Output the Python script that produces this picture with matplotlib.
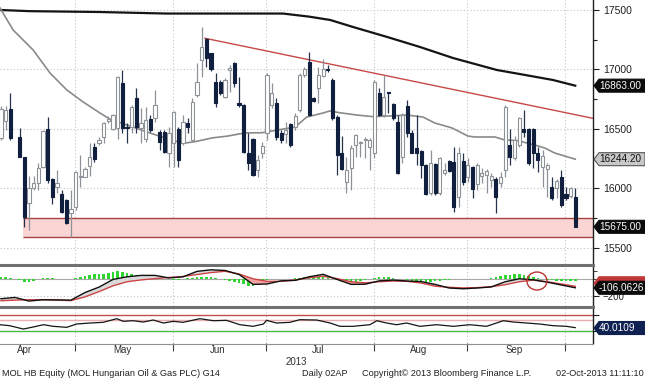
import numpy as np
import pandas as pd
import matplotlib
matplotlib.use('Agg')
import matplotlib.pyplot as plt
import matplotlib.transforms as mtrans
from matplotlib.patches import Polygon, Ellipse
from matplotlib.lines import Line2D

plt.rcParams['font.family'] = ['Liberation Sans', 'DejaVu Sans']

# daily candles, MOL HB Equity, 08-Apr-2013 .. 02-Oct-2013 (nan = no print)
nan = np.nan
open_px = [16420, 16569, 16664, nan, 16434, 16266, 15873, 16000, 16041, 16182,
           16496, 16075, 16008, 15951, 15901, 15794, 15845, 16097, 16097, 16187,
           16350, 16378, 16434, 16569, 16496, 16504, 16883, 16518, 16518, 16757,
           16504, 16412, 16580, 16588, 16476, 16476, 16294, 16378, 16496, 16378,
           16552, 16406, 16785, 17079, 17253, 17136, 16897, 16897, 16771, 16995,
           17057, 16720, 16701, 16294, 16412, 16153, 16299, 16462, 16701, 16715,
           16462, 16457, 16538, 16518, 16659, 16953, 17065, 16757, 16841, 16945,
           17004, 16911, 16602, 16299, 16055, 16168, 16364, 16378, 16406, 16350,
           16294, 16804, 16616, 16807, 16709, 16560, 16266, 16692, 16462, 16336,
           16316, 16196, 15957, 16204, 15957, 16131, 16232, 16224, 15929, 16232,
           16097, 16176, 16036, 16103, 16111, 16069, 16075, 16047, 16153, 16364,
           16252, 16364, 16496, 16496, 16496, 16299, 16176, 16159, 16013, 16000,
           16097, 15949, 15934, 15929]
high_px = [16692, 16692, 16804, nan, 16504, 16266, 16106, 16106, 16210, 16490,
           16602, 16083, 16153, 15985, 15906, 15985, 16145, 16280, 16182, 16384,
           16384, 16434, 16557, 16608, 16622, 16945, 16995, 16546, 16701, 16841,
           16673, 16681, 16616, 16827, 16490, 16490, 16518, 16650, 16518, 16616,
           16588, 16757, 17051, 17357, 17262, 17141, 16967, 16911, 16925, 17037,
           17065, 16939, 16709, 16462, 16420, 16280, 16392, 16967, 16883, 16757,
           16490, 16560, 16546, 16630, 16967, 17023, 17149, 16771, 17023, 17085,
           17037, 16925, 16616, 16440, 16266, 16364, 16457, 16400, 16428, 16420,
           16911, 16841, 16953, 16813, 16715, 16616, 16630, 16743, 16490, 16616,
           16322, 16204, 16322, 16215, 16266, 16210, 16238, 16350, 16350, 16299,
           16252, 16187, 16210, 16168, 16159, 16125, 16097, 16139, 16701, 16496,
           16440, 16602, 16659, 16504, 16504, 16350, 16322, 16210, 16097, 16075,
           16153, 16013, 16013, 16000]
low_px = [16406, 16490, 16406, nan, 16260, 15676, 15648, 15985, 15985, 16168,
          16041, 15867, 15957, 15794, 15699, 15592, 15817, 16013, 16092, 16103,
          16224, 16364, 16384, 16552, 16490, 16412, 16462, 16378, 16462, 16462,
          16378, 16392, 16476, 16560, 16322, 16294, 16182, 16182, 16182, 16364,
          16462, 16400, 16771, 16939, 17023, 16990, 16681, 16785, 16757, 16813,
          16855, 16681, 16294, 16153, 16103, 16097, 16252, 16406, 16673, 16406,
          16378, 16378, 16350, 16490, 16645, 16939, 16608, 16729, 16715, 16939,
          16981, 16574, 16111, 16153, 15963, 15985, 16266, 16266, 16252, 16153,
          16252, 16608, 16602, 16630, 16574, 16120, 16210, 16434, 16294, 16196,
          16083, 15943, 15943, 15943, 15943, 16111, 16139, 15803, 15845, 16027,
          16055, 15915, 15985, 16041, 15963, 16013, 15789, 16008, 16097, 16196,
          16238, 16350, 16434, 16196, 16168, 16139, 16013, 15929, 15901, 15915,
          15845, 15901, 15915, 15671]
close_px = [16664, 16659, 16420, nan, 16266, 15761, 16000, 16041, 16168, 16485,
            16069, 15929, 16041, 15803, 15705, 15822, 16139, 16106, 16159, 16266,
            16243, 16406, 16552, 16580, 16616, 16939, 16504, 16510, 16687, 16518,
            16552, 16574, 16490, 16701, 16392, 16308, 16462, 16645, 16238, 16560,
            16513, 16729, 16897, 17192, 17093, 17001, 16720, 16799, 16911, 17015,
            16883, 16703, 16308, 16210, 16111, 16238, 16356, 16953, 16799, 16434,
            16406, 16490, 16364, 16608, 16953, 17001, 16616, 16737, 16953, 17001,
            16992, 16588, 16280, 16159, 16153, 16336, 16448, 16389, 16414, 16406,
            16897, 16616, 16771, 16799, 16588, 16131, 16616, 16462, 16299, 16299,
            16196, 15951, 16210, 15957, 16252, 16153, 16148, 15845, 16299, 16055,
            16196, 15991, 16196, 16131, 16148, 16103, 15929, 16097, 16687, 16260,
            16406, 16588, 16476, 16210, 16294, 16238, 16271, 16196, 15915, 16064,
            15859, 15915, 15999, 15675]

# moving averages (at these candle positions)
ma200_pos = [-0.2, 6.2, 21, 35.5, 49.7, 60.4, 66, 70.5, 75.4, 82.7, 89.7, 96.8, 106.2, 111.1, 118.2, 123]
ma200_val = [17500, 17490, 17483, 17470, 17470, 17470, 17444, 17416, 17357, 17273, 17189, 17096, 16995, 16961, 16911, 16863]
ma50_pos = [-0.2, 2.6, 6.9, 10.5, 14.1, 17.6, 21.2, 23.3, 27.0, 31.9, 34.5, 37.9, 39.4, 41.5, 45.2,
            48.6, 52.2, 55.9, 59.3, 63.0, 65.5, 69.0, 70.4, 72.6, 76.2, 79.7, 83.3, 86.9, 90.4, 92.9,
            96.6, 100.0, 101.5, 105.8, 107.9, 110.7, 114.3, 116.5, 118.6, 121.4, 123]
ma50_val = [17517, 17332, 17163, 16970, 16827, 16726, 16633, 16582, 16532, 16465, 16431, 16391, 16380, 16391, 16423,
            16439, 16465, 16467, 16490, 16515, 16599, 16633, 16650, 16635, 16616, 16602, 16608, 16616, 16599, 16549,
            16507, 16439, 16431, 16431, 16406, 16400, 16364, 16338, 16296, 16263, 16244.2]

trend_pos = [43.7, 126.8]
trend_val = [17262, 16588]
support_from = 4.8
support_lo, support_hi = 15592, 15746

# MACD panel
macd_pos = list(range(0, 124, 3))
macd_val = [-239, -223, -267, -251, -253, -256, -164, -98, -5, 27, 44, 44, 13, 27,
            93, 112, 104, 55, -65, -60, -22, -16, 27, 57, -5, -65, -63, -22, -13, -24,
            -31, -65, -109, -118, -109, -96, -33, 3, -9, -38, -72, -106.0626]
signal_val = [-263, -256, -251, -251, -256, -262, -216, -153, -82, -33, -11, 5, 19, 31,
              55, 78, 94, 61, 3, -28, -28, -13, 16, 33, 5, -33, -46, -33, -24, -28,
              -48, -87, -100, -108, -104, -93, -69, -33, -13, -33, -60, -88]
hist_val = [20, 20, 15, nan, -15, -30, -35, -20, 5, 10, 10, 10, 5, 5, 5, 5,
            15, 25, 35, 45, 55, 60, 65, 70, 80, 93, 80, 70, 60, 50, 45, 40, 36, 25, 10, 5, -5,
            -10, -10, 5, 10, 15, 20, 25, 25, 20, 10, 0, -10, -20, -35, -50, -65, -80, -85, -70, -40,
            -15, -5, 0, 5, 5, 5, 10, 15, 20, 25, 30, 30, 25, 15, 0, -15, -30, -40, -40, -35, -25, -15, -5,
            10, 20, 25, 25, 15, 5, -5, -15, -20, -25, -30, -30, -30, -25, -20, -15, -10, -5, -5, 0,
            0, 5, 5, 5, 5, 10, 20, 35, 45, 50, 56, 56, 50, 40, 25, 10, 0, -10, -15, -20, -20, -20, -20, -18]

# RSI panel
rsi_pos = [-0.2, 1.9, 4.8, 6.9, 9.1, 11.2, 14.1, 16.2, 19.1, 21.9, 24.8, 26.2, 28.3, 30.5, 32.6,
           34.8, 36.9, 39.0, 42.6, 45.5, 48.3, 51.2, 54.0, 56.2, 56.9, 59.0, 61.9, 64.0, 67.6, 68.3,
           70.5, 72.6, 75.4, 79.0, 80.5, 82.6, 84.7, 86.9, 89.7, 93.3, 96.9, 100.4, 104.0, 107.6,
           109.7, 112.6, 115.4, 118.3, 121.1, 123]
rsi_val = [45.6, 43.0, 34.4, 39.6, 45.6, 41.4, 38.8, 47.4, 50.0, 51.8, 61.2, 54.4, 56.0, 52.6, 57.8,
           50.0, 54.4, 51.8, 61.2, 56.0, 57.0, 45.6, 41.4, 47.4, 57.0, 50.0, 51.8, 58.6, 57.8, 56.0,
           50.0, 41.4, 41.4, 45.6, 56.0, 50.0, 45.6, 50.0, 41.4, 45.6, 41.4, 45.6, 41.4, 56.0,
           52.6, 50.0, 47.4, 43.0, 41.4, 38.0]
rsi_last = 40.0109

holidays = ['2013-04-01', '2013-05-01', '2013-05-20', '2013-08-19', '2013-08-20']
month_names = ['Apr', 'May', 'Jun', 'Jul', 'Aug', 'Sep', 'Oct']

# ---- calendar -> candle positions
all_days = pd.bdate_range('2013-04-01', '2013-10-02')
all_days = all_days[~all_days.isin(pd.to_datetime(holidays))]
day_pos = np.arange(len(all_days)) - all_days.get_loc(pd.Timestamp('2013-04-08'))
x = np.arange(len(open_px))
o, h, l, c = (np.array(v, float) for v in (open_px, high_px, low_px, close_px))

months = pd.Series(day_pos, index=all_days).groupby(all_days.month)
tick_pos = [g.min() - 1.2 for m, g in months][1:]
label_pos = [g.mean() - 1.0 for m, g in months][:-1]

W, H = 645, 380
fig = plt.figure(figsize=(W / 100, H / 100), dpi=100)
fig.patch.set_facecolor('white')
right = 593 / W
ax = fig.add_axes([0, 1 - 264 / H, right, 264 / H])
axm = fig.add_axes([0, 1 - 306 / H, right, 40 / H], sharex=ax)
axr = fig.add_axes([0, 1 - 343 / H, right, 34 / H], sharex=ax)
xlim = (-0.2, 126.8)

for a in (ax, axm, axr):
    for s in ('top', 'left', 'bottom'):
        a.spines[s].set_visible(False)
    a.spines['right'].set_color('#202020')
    a.spines['right'].set_linewidth(1)
    a.yaxis.tick_right()
    a.tick_params(axis='y', direction='out', length=4, width=0.8, colors='#202020',
                  labelsize=7.5, pad=3)
    a.tick_params(axis='x', which='both', length=0, labelbottom=False)
    for t in tick_pos:
        a.axvline(t, color='#c4c4c4', lw=0.8, ls=(0, (1, 2)), zorder=0)

# ---- price panel
ax.set_yticks([15500, 16000, 16500, 17000, 17500])
ax.set_yticks(np.arange(15500, 17600, 250), minor=True)
ax.tick_params(axis='y', which='minor', direction='out', length=3, width=0.8, colors='#202020')
for v in [15500, 16000, 16500, 17000, 17500]:
    ax.axhline(v, color='#c4c4c4', lw=0.8, ls=(0, (1, 2)), zorder=0)

ax.fill_between([support_from, xlim[1]], support_lo, support_hi, color='#fbd4d4', lw=0, zorder=1)
ax.hlines([support_lo, support_hi], support_from, xlim[1], color='#a84444', lw=1, zorder=2)
ax.plot(trend_pos, trend_val, color='#c84848', lw=1, zorder=2)
ax.plot(ma200_pos, ma200_val, color='#141414', lw=1.6, zorder=2)
ax.plot(ma50_pos, ma50_val, color='#8a8a8a', lw=1.2, zorder=2)

valid = ~np.isnan(o)
up = valid & (c >= o)
dn = valid & (c < o)
ax.vlines(x[up], l[up], h[up], color='#8d9299', lw=0.9, zorder=3)
ax.vlines(x[dn], l[dn], h[dn], color='#26324a', lw=0.9, zorder=3)
ax.bar(x[up], (c - o)[up], bottom=o[up], width=0.68, facecolor='white',
       edgecolor='#8d9299', lw=0.8, zorder=4)
ax.bar(x[dn], (o - c)[dn], bottom=c[dn], width=0.68, facecolor='#0f1f3d',
       edgecolor='#0f1f3d', lw=0.8, zorder=4)
ax.set_ylim(15362, 17584)

# ---- MACD panel
axm.set_yticks([-200])
axm.set_yticks([-100, 0, 100], minor=True)
axm.tick_params(axis='y', which='minor', direction='out', length=3, colors='#202020')
axm.tick_params(axis='y', labelsize=7)
axm.axhline(0, color='#a8a8a8', lw=0.8, zorder=1)
axm.axhline(-200, color='#c4c4c4', lw=0.8, ls=(0, (1, 2)), zorder=0)
hv = np.array(hist_val, float)
axm.bar(x[~np.isnan(hv)], hv[~np.isnan(hv)], width=0.55, color='#2fd62f', lw=0, zorder=2)
mv, sv = np.array(macd_val), np.array(signal_val)
axm.fill_between(macd_pos, mv, sv, where=sv >= mv, interpolate=True, color='#f2a2a2', lw=0, zorder=3)
axm.fill_between(macd_pos, mv, sv, where=mv >= sv, interpolate=True, color='#dadada', lw=0, zorder=3)
axm.plot(macd_pos, signal_val, color='#cc4444', lw=1, zorder=4)
axm.plot(macd_pos, macd_val, color='#101010', lw=1, zorder=5)
axm.add_patch(Ellipse((114.8, -24), 4.3, 218, fill=False, ec='#b83434', lw=1, zorder=6))
axm.set_ylim(-327, 158)

# ---- RSI panel
axr.set_yticks([30, 70])
axr.set_yticklabels([])
axr.axhline(70, color='#c05050', lw=1, zorder=1)
axr.axhline(58.6, color='#eab0b0', lw=1, zorder=1)
axr.axhline(30, color='#44bb44', lw=1, zorder=1)
axr.plot(rsi_pos, rsi_val, color='#151515', lw=0.9, zorder=3)
axr.set_ylim(-1.9, 86.4)

axr.tick_params(axis='x', which='major', direction='out', length=6, width=0.8, colors='#404040')
axr.set_xticks(tick_pos)
axr.set_xlim(*xlim)
bt = mtrans.blended_transform_factory(axr.transData, axr.transAxes)
for p, name in zip(label_pos, month_names):
    if xlim[0] < p < xlim[1]:
        axr.text(p, -0.21, name, transform=bt, ha='center', va='center', fontsize=7, color='#303030')
axr.text(sum(xlim) / 2, -0.56, '2013', transform=bt, ha='center', va='center', fontsize=7, color='#303030')

# panel separators
for yy in (265, 307):
    fig.add_artist(Line2D([0, right], [1 - yy / H] * 2, transform=fig.transFigure,
                          color='#707070', lw=2.2))
fig.add_artist(Line2D([0, right], [1 - 343.5 / H] * 2, transform=fig.transFigure,
                      color='#909090', lw=0.8))

# value tags on the right axis
fig.canvas.draw()
ident = mtrans.IdentityTransform()


def tag(axis, value, text, fc, tc, ec=None, shift=0):
    yc = axis.transData.transform((0, value))[1] + shift
    x0, hh = 593, 6.5
    poly = Polygon([(x0 + 1, yc), (x0 + 6, yc + hh), (645, yc + hh), (645, yc - hh), (x0 + 6, yc - hh)],
                   closed=True, fc=fc, ec=ec or fc, lw=0.8, transform=ident)
    fig.add_artist(poly)
    fig.text(599, yc, text, transform=ident, ha='left', va='center', fontsize=7.2, color=tc)


tag(ax, ma200_val[-1], '%.2f' % ma200_val[-1], '#0b0b0b', 'white')
tag(ax, ma50_val[-1], '%.2f' % ma50_val[-1], '#c8c8c8', '#111111', ec='#555555')
tag(ax, close_px[-1], '%.2f' % close_px[-1], '#0b0b0b', 'white')
tag(axm, signal_val[-1], '', '#c03838', 'white', shift=3)
tag(axm, macd_val[-1], '%.4f' % macd_val[-1], '#0b0b0b', 'white')
tag(axr, rsi_last - 3, '%.4f' % rsi_last, '#0e2150', 'white')

# footer
foot = dict(fontsize=6.6, color='#202020', va='center')
fig.text(2 / W, 1 - 374 / H, 'MOL HB Equity (MOL Hungarian Oil & Gas PLC) G14', ha='left', **foot)
fig.text(302 / W, 1 - 374 / H, 'Daily 02AP', ha='left', **foot)
fig.text(362 / W, 1 - 374 / H, 'Copyright\u00a9 2013 Bloomberg Finance L.P.', ha='left', **foot)
fig.text(644 / W, 1 - 374 / H, '02-Oct-2013 11:11:10', ha='right', **foot)

fig.savefig('out.png', dpi=100, facecolor='white')
